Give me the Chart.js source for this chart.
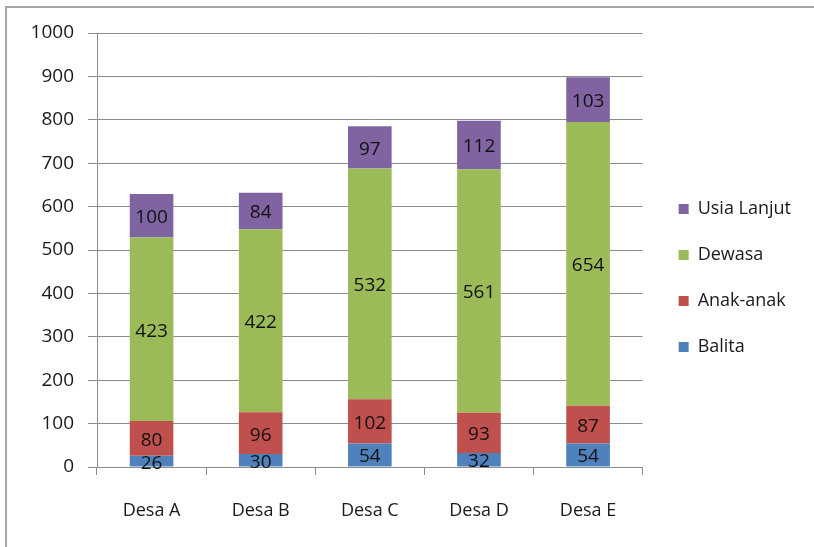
<!DOCTYPE html>
<html>
<head>
<meta charset="utf-8">
<title>Jumlah Penduduk per Desa</title>
<script src="https://cdn.jsdelivr.net/npm/chart.js@4"></script>
<style>
  html, body { margin: 0; padding: 0; background: #fff; }
  canvas { display: block; }
</style>
</head>
<body>
<canvas id="chart" width="814" height="547"></canvas>
<script>
// Population by age group for each village
const villages = ["Desa A", "Desa B", "Desa C", "Desa D", "Desa E"];
const balita = [26, 30, 54, 32, 54];
const anakAnak = [80, 96, 102, 93, 87];
const dewasa = [423, 422, 532, 561, 654];
const usiaLanjut = [100, 84, 97, 112, 103];

const yMin = 0;
const yMax = 1000;
const yStep = 100;

const gridColor = "#8c8c8c";
const textColor = "#1a1a1a";

// Frame around the chart (left and top edges only)
const framePlugin = {
  id: "frame",
  beforeDraw(chart) {
    const ctx = chart.ctx;
    ctx.save();
    ctx.strokeStyle = "#a6a6a6";
    ctx.lineWidth = 2;
    ctx.beginPath();
    ctx.moveTo(6, chart.height);
    ctx.lineTo(6, 7);
    ctx.lineTo(chart.width, 7);
    ctx.stroke();
    ctx.restore();
  }
};

// Value written in the middle of each stacked segment
const segmentLabels = {
  id: "segmentLabels",
  afterDatasetsDraw(chart) {
    const ctx = chart.ctx;
    ctx.save();
    ctx.font = "19px 'Open Sans'";
    ctx.fillStyle = "#111";
    ctx.textAlign = "center";
    ctx.textBaseline = "middle";
    chart.data.datasets.forEach((ds, i) => {
      const meta = chart.getDatasetMeta(i);
      meta.data.forEach((bar, j) => {
        const cy = (bar.y + bar.base) / 2;
        ctx.fillText(ds.data[j], bar.x, cy + 2);
      });
    });
    ctx.restore();
  }
};

new Chart(document.getElementById("chart"), {
  type: "bar",
  data: {
    labels: villages,
    datasets: [
      { label: "Balita", data: balita, backgroundColor: "#4f81bd" },
      { label: "Anak-anak", data: anakAnak, backgroundColor: "#c0504d" },
      { label: "Dewasa", data: dewasa, backgroundColor: "#9bbb59" },
      { label: "Usia Lanjut", data: usiaLanjut, backgroundColor: "#8064a2" }
    ]
  },
  options: {
    responsive: false,
    animation: false,
    layout: { padding: { left: 0, top: 33, right: 13, bottom: 24 } },
    datasets: {
      bar: { categoryPercentage: 1, barPercentage: 0.4 }
    },
    scales: {
      x: {
        stacked: true,
        grid: {
          offset: true,
          drawOnChartArea: false,
          color: gridColor,
          tickLength: 8
        },
        border: { color: gridColor },
        ticks: {
          color: textColor,
          font: { family: "'Open Sans'", size: 18 },
          padding: 25
        },
        afterFit(scale) { scale.height = 56; }
      },
      y: {
        stacked: true,
        min: yMin,
        max: yMax,
        grid: { color: gridColor, tickLength: 9 },
        border: { color: gridColor },
        ticks: {
          stepSize: yStep,
          color: textColor,
          font: { family: "'Open Sans'", size: 19 },
          padding: 14,
          callback: (v) => String(v)
        },
        afterFit(scale) { scale.width = 97; }
      },
      // empty axis that keeps the legend away from the plot
      y2: {
        type: "linear",
        position: "right",
        grid: { display: false },
        border: { display: false },
        ticks: { display: false },
        afterFit(scale) { scale.width = 8; }
      }
    },
    plugins: {
      legend: {
        position: "right",
        reverse: true,
        maxWidth: 220,
        labels: {
          boxWidth: 10,
          boxHeight: 10,
          padding: 28,
          color: textColor,
          font: { family: "'Open Sans'", size: 18 }
        }
      },
      tooltip: { enabled: false }
    }
  },
  plugins: [framePlugin, segmentLabels]
});
</script>
</body>
</html>
